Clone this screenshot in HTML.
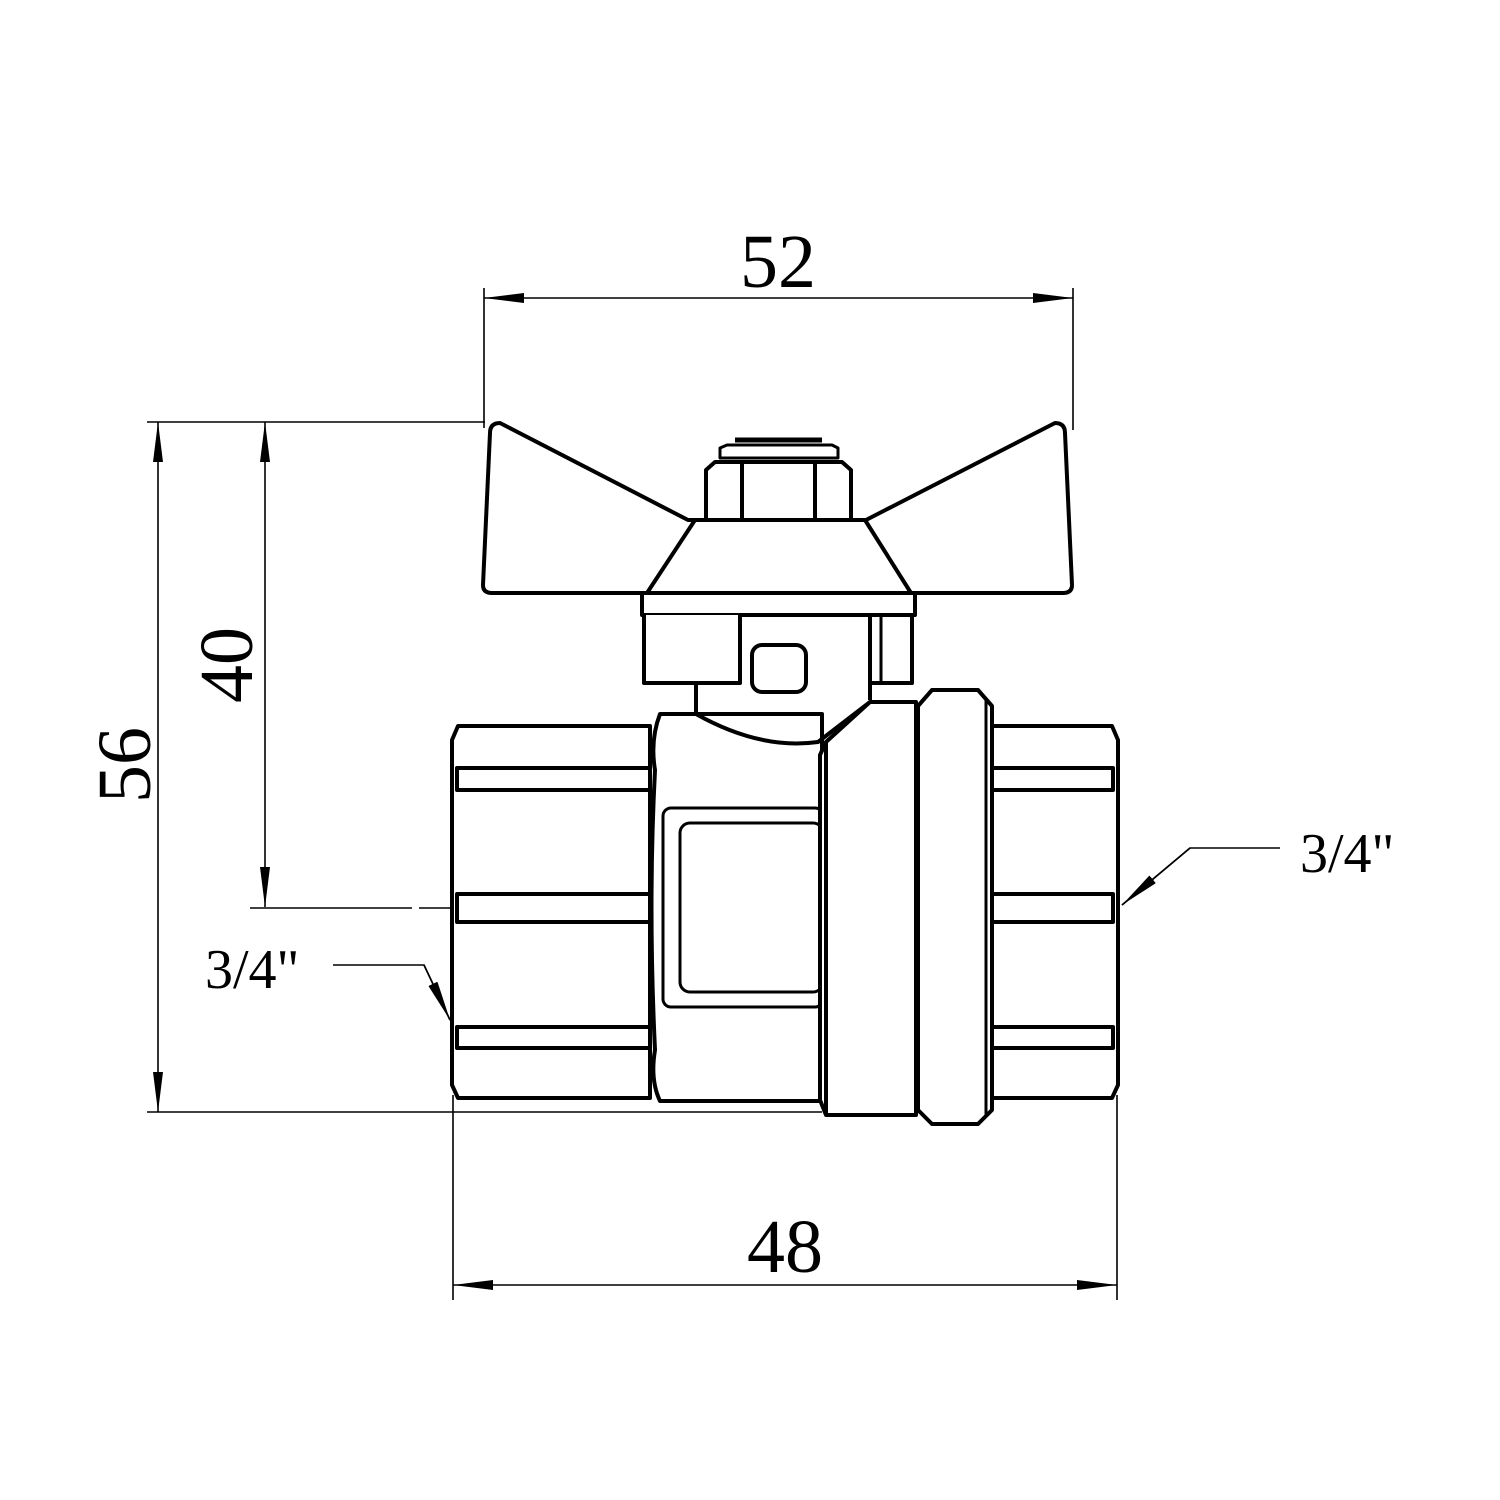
<!DOCTYPE html>
<html><head><style>html,body{margin:0;padding:0;background:#fff}svg{display:block}</style></head>
<body>
<svg width="1500" height="1500" viewBox="0 0 1500 1500" xmlns="http://www.w3.org/2000/svg">
<defs>
<marker id="a" viewBox="0 0 40 10" refX="40" refY="5" markerWidth="40" markerHeight="10" markerUnits="userSpaceOnUse" orient="auto-start-reverse"><path d="M0,0 L40,5 L0,10 Z" fill="#000"/></marker>
</defs>
<g stroke="#000" stroke-width="1.6" fill="none">
<!-- 52 -->
<line x1="484" y1="288" x2="484" y2="428"/>
<line x1="1073" y1="288" x2="1073" y2="430"/>
<line x1="484" y1="298" x2="1073" y2="298" marker-start="url(#a)" marker-end="url(#a)"/>
<!-- 56 -->
<line x1="147" y1="422" x2="485" y2="422"/>
<line x1="147" y1="1112" x2="822" y2="1112"/>
<line x1="158" y1="422" x2="158" y2="1112" marker-start="url(#a)" marker-end="url(#a)"/>
<!-- 40 -->
<line x1="265" y1="422" x2="265" y2="907" marker-start="url(#a)" marker-end="url(#a)"/>
<line x1="250" y1="908" x2="412" y2="908"/>
<line x1="419" y1="908" x2="693" y2="908"/>
<!-- 48 -->
<line x1="453" y1="1095" x2="453" y2="1300"/>
<line x1="1117" y1="1095" x2="1117" y2="1300"/>
<line x1="453" y1="1285" x2="1117" y2="1285" marker-start="url(#a)" marker-end="url(#a)"/>
<!-- leaders -->
<polyline points="1280,848 1190,848 1122,905" />
<line x1="1190" y1="848" x2="1122" y2="905" marker-end="url(#a)"/>
<polyline points="333,965 424,965 450,1020"/>
<line x1="424" y1="965" x2="450" y2="1020" marker-end="url(#a)"/>
</g>
<g font-family="Liberation Serif, serif" fill="#000">
<text x="778" y="287" font-size="76" text-anchor="middle">52</text>
<text x="785" y="1272" font-size="76" text-anchor="middle">48</text>
<text transform="translate(150,765) rotate(-90)" font-size="76" text-anchor="middle">56</text>
<text transform="translate(252,665) rotate(-90)" font-size="76" text-anchor="middle">40</text>
<text x="1300" y="872" font-size="56">3/4"</text>
<text x="205" y="988" font-size="56">3/4"</text>
</g>
<g stroke="#000" stroke-width="4" fill="#fff" stroke-linejoin="round">
<!-- handle wings -->
<path d="M500,423 Q490,423 490,433 L483,585 Q483,593 492,593 L1063,593 Q1072,593 1072,585 L1065,433 Q1065,423 1055,423 L866,520 L688,520 Z"/>
<!-- cone -->
<path d="M695,520 L865,520 L911,593 L647,593 Z"/>
<!-- nut -->
<path d="M706,470 L715,462 L842,462 L851,470 L851,520 L706,520 Z"/>
<line x1="742" y1="464" x2="742" y2="520"/>
<line x1="815" y1="464" x2="815" y2="520"/>
<path d="M720,458 L720,448 L727,445 L832,445 L838,448 L838,458 Z" stroke-width="3"/>
<line x1="735" y1="440" x2="822" y2="440" stroke-width="5"/>
<!-- base plate -->
<rect x="642" y="593" width="273" height="22"/>
<!-- stem block -->
<path d="M644,615 L644,683 L740,683 L740,615"/>
<path d="M740,615 L870,615 L870,700" fill="none"/>
<rect x="870" y="615" width="42" height="68"/>
<line x1="881" y1="615" x2="881" y2="683" stroke-width="3"/>
<rect x="752" y="645" width="54" height="47" rx="10"/>
<line x1="696" y1="683" x2="696" y2="714"/>
<!-- left hex -->
<path d="M458,726 L650,726 L650,1098 L458,1098 L452,1085 L452,740 Z"/>
<rect x="457" y="768" width="193" height="22"/>
<rect x="457" y="894" width="193" height="28"/>
<rect x="457" y="1027" width="193" height="21"/>
<!-- right hex -->
<path d="M990,726 L1112,726 L1118,740 L1118,1085 L1112,1098 L990,1098 Z"/>
<rect x="990" y="768" width="123" height="22"/>
<rect x="990" y="894" width="123" height="28"/>
<rect x="990" y="1027" width="123" height="21"/>
<!-- center body -->
<path d="M660,714 Q650,740 655,770 Q648,905 655,1050 Q650,1080 660,1101 L822,1101 L822,714 Z"/>
<rect x="663" y="808" width="160" height="199" rx="8" stroke-width="3"/>
<rect x="680" y="823" width="143" height="169" rx="10" stroke-width="3"/>
<path d="M696,714 Q760,750 818,742 L870,702" fill="none"/>
<!-- nut section -->
<path d="M826,742 L870,702 L916,702 L916,1115 L826,1115 L820,1100 L820,755 Z"/>
<line x1="826" y1="742" x2="826" y2="1115"/>
<!-- ring -->
<path d="M932,690 L978,690 L992,706 L992,1110 L978,1124 L932,1124 L918,1110 L918,706 Z"/>
<line x1="986" y1="700" x2="986" y2="1115" stroke-width="3"/>
</g>
</svg>
</body></html>
